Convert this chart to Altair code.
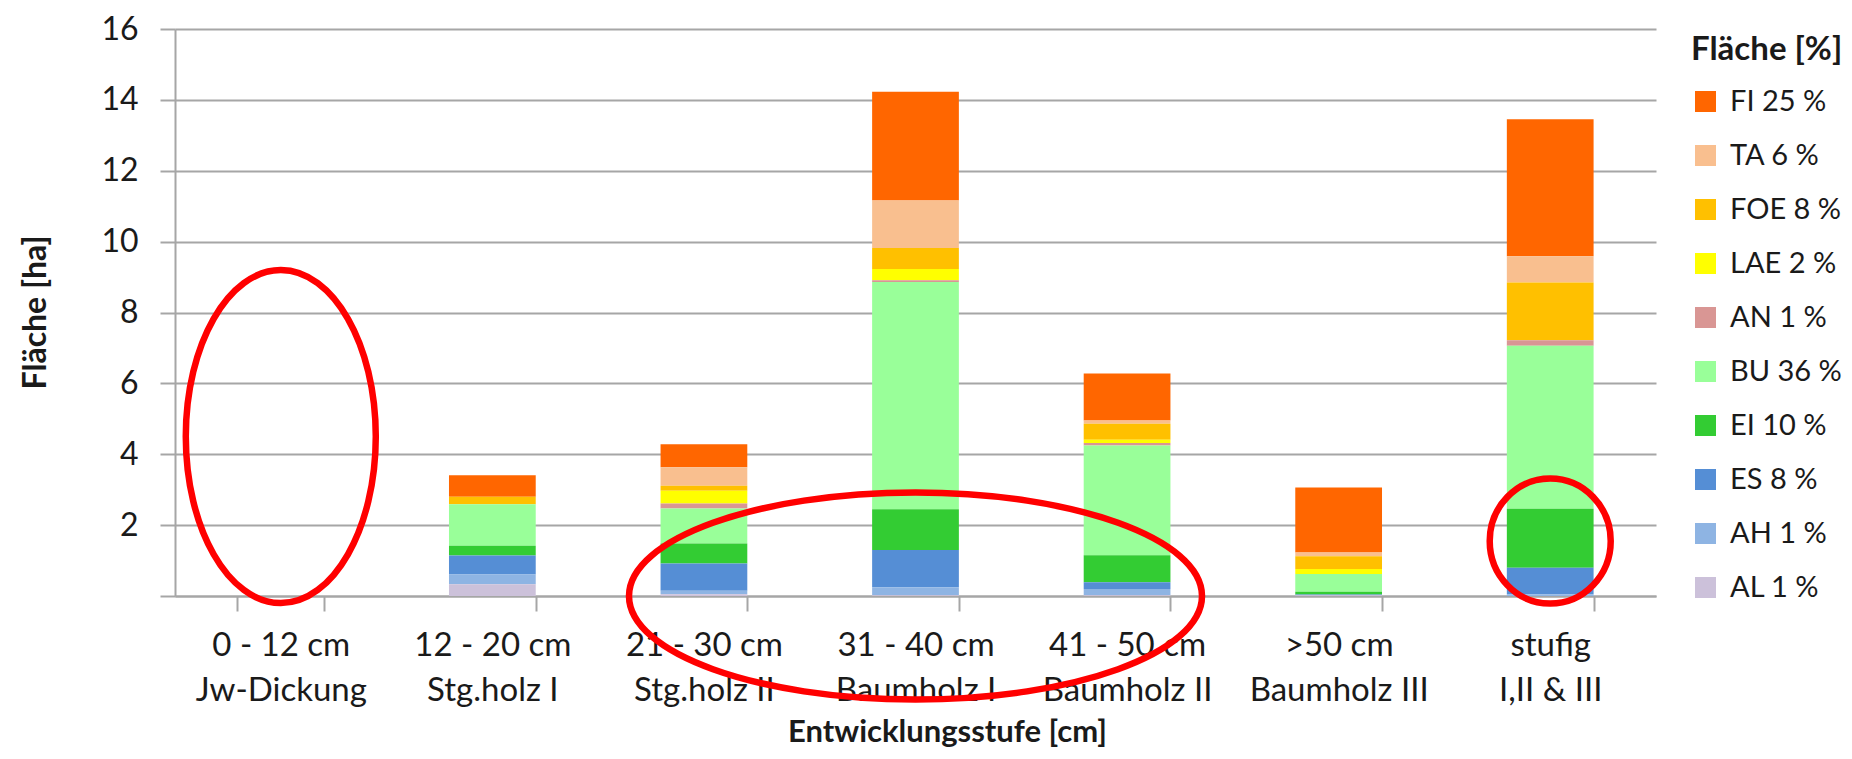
import altair as alt
import pandas as pd

# ---- data ----
classes = ["0 - 12 cm", "12 - 20 cm", "21 - 30 cm", "31 - 40 cm", "41 - 50 cm", ">50 cm", "stufig"]
stages = ["Jw-Dickung", "Stg.holz I", "Stg.holz II", "Baumholz I", "Baumholz II", "Baumholz III", "I,II & III"]

species = ["FI", "TA", "FOE", "LAE", "AN", "BU", "EI", "ES", "AH", "AL"]
share_pct = [25, 6, 8, 2, 1, 36, 10, 8, 1, 1]
colors = ["#FF6600", "#F9BF8F", "#FFC000", "#FFFF00", "#D99694",
          "#99FF99", "#33CC33", "#558ED5", "#8EB4E3", "#CCC1DA"]

area_FI = [0, 0.61, 0.65, 3.07, 1.33, 1.83, 3.86]
area_TA = [0, 0.00, 0.52, 1.34, 0.09, 0.11, 0.74]
area_FOE = [0, 0.21, 0.14, 0.59, 0.45, 0.36, 1.63]
area_LAE = [0, 0.00, 0.36, 0.32, 0.09, 0.14, 0.00]
area_AN = [0, 0.00, 0.14, 0.05, 0.07, 0.00, 0.16]
area_BU = [0, 1.17, 0.99, 6.41, 3.10, 0.50, 4.60]
area_EI = [0, 0.28, 0.56, 1.15, 0.76, 0.08, 1.66]
area_ES = [0, 0.53, 0.77, 1.05, 0.19, 0.02, 0.75]
area_AH = [0, 0.28, 0.10, 0.23, 0.18, 0.00, 0.05]
area_AL = [0, 0.33, 0.05, 0.02, 0.02, 0.02, 0.00]

y_ticks = [0, 2, 4, 6, 8, 10, 12, 14, 16]

# red hand-drawn style rings (annotations): category, y position
ring_class = ["0 - 12 cm", "31 - 40 cm", "stufig"]
ring_y = [4.5, 0.0, 1.55]

# ---- build tables ----
series = [area_FI, area_TA, area_FOE, area_LAE, area_AN, area_BU, area_EI, area_ES, area_AH, area_AL]
cats = [f"{c}|{s}" for c, s in zip(classes, stages)]
labels = [f"{s} {p} %" for s, p in zip(species, share_pct)]

rows = []
for i, (lab, vals) in enumerate(zip(labels, series)):
    for cat, v in zip(cats, vals):
        rows.append({"cat": cat, "label": lab, "area": v, "stack_idx": len(labels) - 1 - i})
df = pd.DataFrame(rows)

cat_of = dict(zip(classes, cats))
ring_df = [pd.DataFrame({"cat": [cat_of[c]], "area": [y]}) for c, y in zip(ring_class, ring_y)]

FONT = "Lato"
TXT = "#1a1a1a"
GRAY = "#A6A6A6"

x_enc = alt.X(
    "cat:N", sort=cats,
    scale=alt.Scale(domain=cats, paddingInner=0.59, paddingOuter=0.295),
    axis=alt.Axis(
        title="Entwicklungsstufe [cm]", labelAngle=0, tickBand="extent",
        labelExpr="split(datum.label, '|')", labelFont=FONT, labelFontSize=33,
        labelLineHeight=45, labelColor=TXT, labelPadding=18, labelBaseline="top",
        tickSize=15, tickColor=GRAY, tickWidth=2, domainColor=GRAY, domainWidth=2,
        titleFont=FONT, titleFontSize=31, titleFontWeight="bold", titleColor=TXT,
        titleX=772, titleY=136, titleBaseline="middle", grid=False,
    ),
)
y_enc = alt.Y(
    "area:Q",
    scale=alt.Scale(domain=[0, 16], nice=False),
    axis=alt.Axis(
        title="Fläche [ha]", values=y_ticks,
        labelExpr="datum.value == 0 ? '' : datum.label",
        labelFont=FONT, labelFontSize=32, labelColor=TXT, labelPadding=22,
        tickSize=15, tickColor=GRAY, tickWidth=2, domainColor=GRAY, domainWidth=2,
        grid=True, gridColor=GRAY, gridWidth=2,
        titleFont=FONT, titleFontSize=32, titleFontWeight="bold", titleColor=TXT,
        titleX=-140, titleY=283, titleBaseline="middle",
    ),
)

bars = alt.Chart(df).mark_bar(opacity=1).encode(
    x=x_enc,
    y=y_enc,
    color=alt.Color(
        "label:N",
        scale=alt.Scale(domain=labels, range=colors),
        legend=alt.Legend(
            title="Fläche [%]", orient="none", legendX=1516, legendY=5,
            titleFont=FONT, titleFontSize=33, titleFontWeight="bold", titleColor=TXT,
            labelFont=FONT, labelFontSize=29, labelColor=TXT,
            symbolType="square", symbolSize=440, symbolStrokeWidth=0,
            rowPadding=24, labelOffset=10, titlePadding=20,
        ),
    ),
    order=alt.Order("stack_idx:Q", sort="ascending"),
)

ring_dims = [(190, 333), (573, 207), (121, 125)]
layers = [bars]
for rdf, (w, h) in zip(ring_df, ring_dims):
    m = max(w, h)
    rx, ry = w / m, h / m
    path = f"M {-rx} 0 A {rx} {ry} 0 1 0 {rx} 0 A {rx} {ry} 0 1 0 {-rx} 0 Z"
    layers.append(
        alt.Chart(rdf).mark_point(
            shape=path, size=m * m, filled=False, stroke="#FF0000",
            strokeWidth=6.5, opacity=1,
        ).encode(x=alt.X("cat:N", sort=cats), y=alt.Y("area:Q"))
    )

chart = alt.layer(*layers).properties(
    width=1481, height=567,
    autosize=alt.AutoSizeParams(type="none"),
    padding={"left": 167, "top": 21, "right": 188, "bottom": 153},
).configure_view(stroke=None)

chart.save("out.html", embed_options={"renderer": "svg", "actions": False})
